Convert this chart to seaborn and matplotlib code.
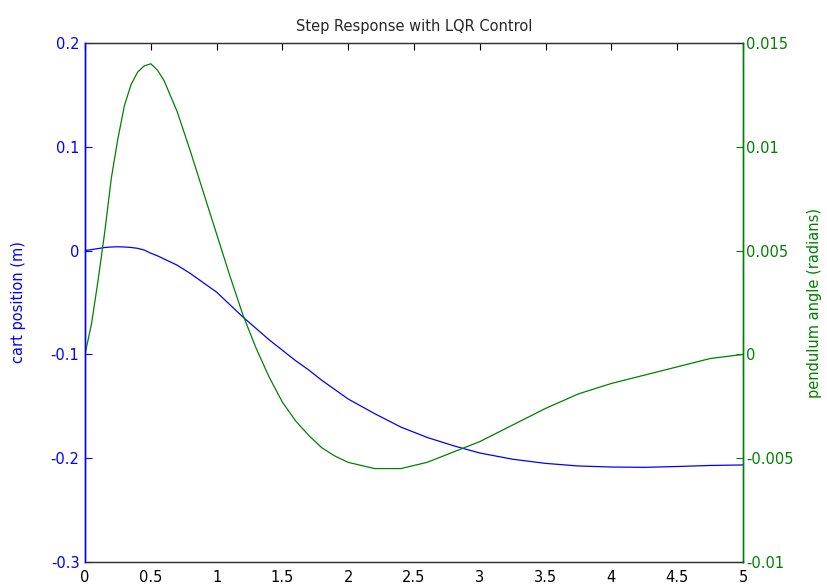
import matplotlib
matplotlib.use("Agg")

import matplotlib.pyplot as plt
import pandas as pd
import seaborn as sns

# time samples (s)
time = [0, 0.05, 0.1, 0.15, 0.2, 0.25, 0.3, 0.35, 0.4, 0.45, 0.5, 0.55, 0.6,
        0.7, 0.8, 0.9, 1.0, 1.1, 1.2, 1.3, 1.4, 1.5, 1.6, 1.7, 1.8, 1.9, 2.0,
        2.2, 2.4, 2.6, 2.8, 3.0, 3.25, 3.5, 3.75, 4.0, 4.25, 4.5, 4.75, 5.0]

cart_position = [0.0, 0.001, 0.002, 0.003, 0.0035, 0.0037, 0.0035, 0.003, 0.0022,
                 0.0005, -0.0025, -0.005, -0.008, -0.014, -0.022, -0.031, -0.040,
                 -0.052, -0.064, -0.075, -0.086, -0.096, -0.106, -0.115, -0.125,
                 -0.134, -0.143, -0.157, -0.170, -0.180, -0.188, -0.195, -0.201,
                 -0.205, -0.2075, -0.2085, -0.2088, -0.208, -0.207, -0.2065]

pendulum_angle = [0.0, 0.0015, 0.0036, 0.0059, 0.0085, 0.0104, 0.0120, 0.0130,
                  0.0136, 0.0139, 0.0140, 0.0137, 0.0132, 0.0117, 0.0098, 0.0078,
                  0.0058, 0.0038, 0.0019, 0.0003, -0.0011, -0.0023, -0.0032,
                  -0.0039, -0.0045, -0.0049, -0.0052, -0.0055, -0.0055, -0.0052,
                  -0.0047, -0.0042, -0.0034, -0.0026, -0.0019, -0.0014, -0.0010,
                  -0.0006, -0.0002, 0.0]

left_ticks = [-0.3, -0.2, -0.1, 0, 0.1, 0.2]
left_labels = ["-0.3", "-0.2", "-0.1", "0", "0.1", "0.2"]
right_ticks = [-0.01, -0.005, 0, 0.005, 0.01, 0.015]
right_labels = ["-0.01", "-0.005", "0", "0.005", "0.01", "0.015"]
x_ticks = [0, 0.5, 1, 1.5, 2, 2.5, 3, 3.5, 4, 4.5, 5]
x_labels = ["0", "0.5", "1", "1.5", "2", "2.5", "3", "3.5", "4", "4.5", "5"]

BLUE = "#0000ff"
GREEN = "#008000"

sns.set_style("white")
plt.rcParams["font.family"] = ["DejaVu Sans"]

df = pd.DataFrame({"t": time, "cart": cart_position, "angle": pendulum_angle})

fig = plt.figure(figsize=(8.27, 5.87), dpi=100)
ax = fig.add_axes([0.1028, 0.0426, 0.7956, 0.8841])
ax2 = ax.twinx()

sns.lineplot(data=df, x="t", y="cart", ax=ax, color=BLUE, linewidth=0.9)
sns.lineplot(data=df, x="t", y="angle", ax=ax2, color=GREEN, linewidth=0.9)

ax.set_xlim(0, 5)
ax.set_ylim(-0.3, 0.2)
ax2.set_ylim(-0.01, 0.015)

ax.set_xticks(x_ticks, labels=x_labels)
ax.set_yticks(left_ticks, labels=left_labels)
ax2.set_yticks(right_ticks, labels=right_labels)

ax.tick_params(axis="x", direction="in", length=5, width=0.8, top=True,
               colors="black", labelsize=10.5, pad=6)
ax.tick_params(axis="y", direction="in", length=5, width=0.8, colors=BLUE,
               labelsize=10.5, pad=4, right=False)
ax2.tick_params(axis="y", direction="in", length=5, width=0.8, colors=GREEN,
                labelsize=10.5, pad=2, left=False)

for a in (ax, ax2):
    for side in ("top", "bottom"):
        a.spines[side].set_color("#333333")
        a.spines[side].set_linewidth(0.9)
ax.spines["left"].set_color(BLUE)
ax2.spines["left"].set_color(BLUE)
ax.spines["right"].set_color(GREEN)
ax2.spines["right"].set_color(GREEN)
for a in (ax, ax2):
    a.spines["left"].set_linewidth(1.0)
    a.spines["right"].set_linewidth(1.0)

ax.set_xlabel("")
ax.set_ylabel("cart position (m)", color=BLUE, fontsize=10.5)
ax.yaxis.set_label_coords(-0.09, 0.5)
ax2.set_ylabel("pendulum angle (radians)", color=GREEN, fontsize=10.5)
ax2.yaxis.set_label_coords(1.098, 0.5)
ax.set_title("Step Response with LQR Control", fontsize=10.5, pad=9)

fig.savefig("out.png", dpi=100)
plt.close(fig)
